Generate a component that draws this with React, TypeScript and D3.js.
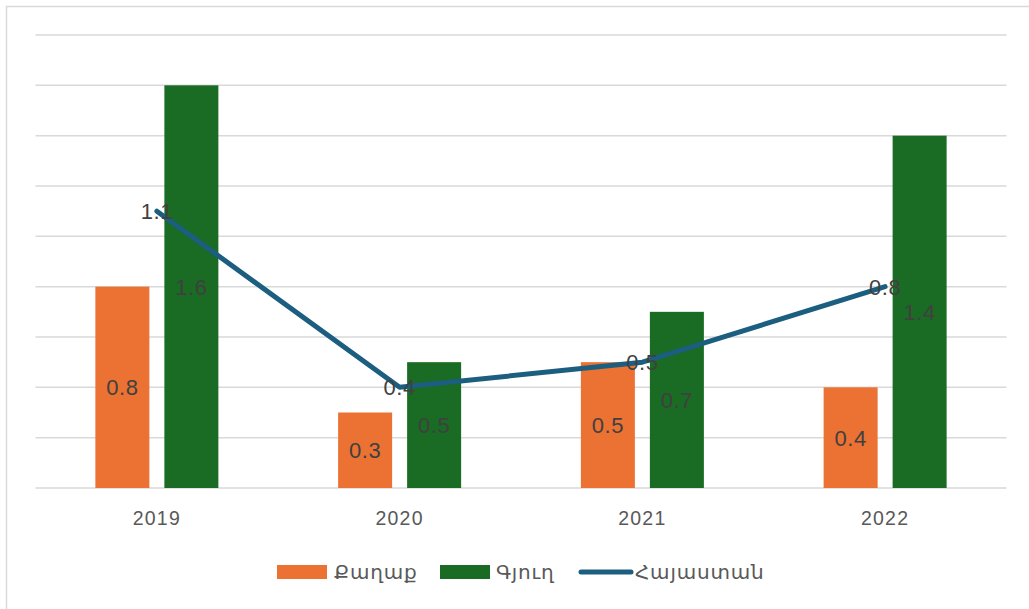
import React from 'react';
import * as d3 from 'd3';

const years = ['2019', '2020', '2021', '2022'];
const seriesNames = ['Քաղաք', 'Գյուղ'];
const cityValues = [0.8, 0.3, 0.5, 0.4];
const villageValues = [1.6, 0.5, 0.7, 1.4];
const armeniaValues = [1.1, 0.4, 0.5, 0.8];
const lineName = 'Հայաստան';
const yTicks = [0, 0.2, 0.4, 0.6, 0.8, 1.0, 1.2, 1.4, 1.6, 1.8];

const W = 1029;
const H = 609;
const colors = ['#EB7232', '#1A6B23'];
const lineColor = '#1B5E80';
const font = '"Liberation Sans", Arial, "Noto Sans", "DejaVu Sans", sans-serif';

export default function App() {
  const x = d3.scaleBand<string>().domain(years).range([35.5, 1006.5]).padding(0);
  const groupW = 123;
  const inner = d3.scaleBand<string>().domain(seriesNames).range([0, groupW]).paddingInner(0.2174).paddingOuter(0);
  const y = d3.scaleLinear().domain([0, 1.8]).range([488, 35]);

  const barData = [cityValues, villageValues];
  const cx = (yr: string) => (x(yr) as number) + x.bandwidth() / 2;

  const line = d3.line<number>()
    .x((_, i) => cx(years[i]))
    .y(d => y(d));

  return (
    <div style={{ position: 'fixed', left: 0, top: 0 }}>
      <svg width={W} height={H} style={{ display: 'block', background: '#fff' }}>
        <rect x={6.5} y={6.5} width={W + 10} height={H + 10} fill="#fff" stroke="#d9d9d9" strokeWidth={1.5} />
        {yTicks.map(t => (
          <line key={t} x1={35.5} x2={1006.5} y1={y(t)} y2={y(t)} stroke="#d9d9d9" strokeWidth={1.5} />
        ))}
        {barData.map((vals, si) =>
          vals.map((v, i) => {
            const bx = cx(years[i]) - groupW / 2 + (inner(seriesNames[si]) as number);
            return (
              <rect key={`${si}-${i}`} x={bx} y={y(v)} width={inner.bandwidth()} height={y(0) - y(v)} fill={colors[si]} />
            );
          })
        )}
        <path d={line(armeniaValues) || ''} fill="none" stroke={lineColor} strokeWidth={5} strokeLinejoin="round" strokeLinecap="round" />
        {barData.map((vals, si) =>
          vals.map((v, i) => {
            const bx = cx(years[i]) - groupW / 2 + (inner(seriesNames[si]) as number) + inner.bandwidth() / 2;
            return (
              <text key={`l${si}-${i}`} x={bx} y={(y(v) + y(0)) / 2} dy="0.36em" textAnchor="middle"
                fontFamily={font} fontSize={22} letterSpacing={0.5} fill="#404040">{v.toFixed(1)}</text>
            );
          })
        )}
        {armeniaValues.map((v, i) => (
          <text key={`a${i}`} x={cx(years[i])} y={y(v)} dy="0.36em" textAnchor="middle"
            fontFamily={font} fontSize={22} letterSpacing={0.5} fill="#404040">{v.toFixed(1)}</text>
        ))}
        {years.map(yr => (
          <text key={yr} x={cx(yr)} y={518} dy="0.36em" textAnchor="middle" fontFamily={font} fontSize={19.5}
            letterSpacing={1.2} fill="#595959">{yr}</text>
        ))}
        <g fontFamily={font} fontSize={20} letterSpacing={0.8} fill="#595959">
          <rect x={277} y={565} width={50} height={14} fill={colors[0]} />
          <text x={334} y={572} dy="0.36em">{seriesNames[0]}</text>
          <rect x={440} y={565} width={50} height={14} fill={colors[1]} />
          <text x={496} y={572} dy="0.36em">{seriesNames[1]}</text>
          <line x1={581} x2={631} y1={572} y2={572} stroke={lineColor} strokeWidth={5} strokeLinecap="round" />
          <text x={635} y={572} dy="0.36em">{lineName}</text>
        </g>
      </svg>
    </div>
  );
}
